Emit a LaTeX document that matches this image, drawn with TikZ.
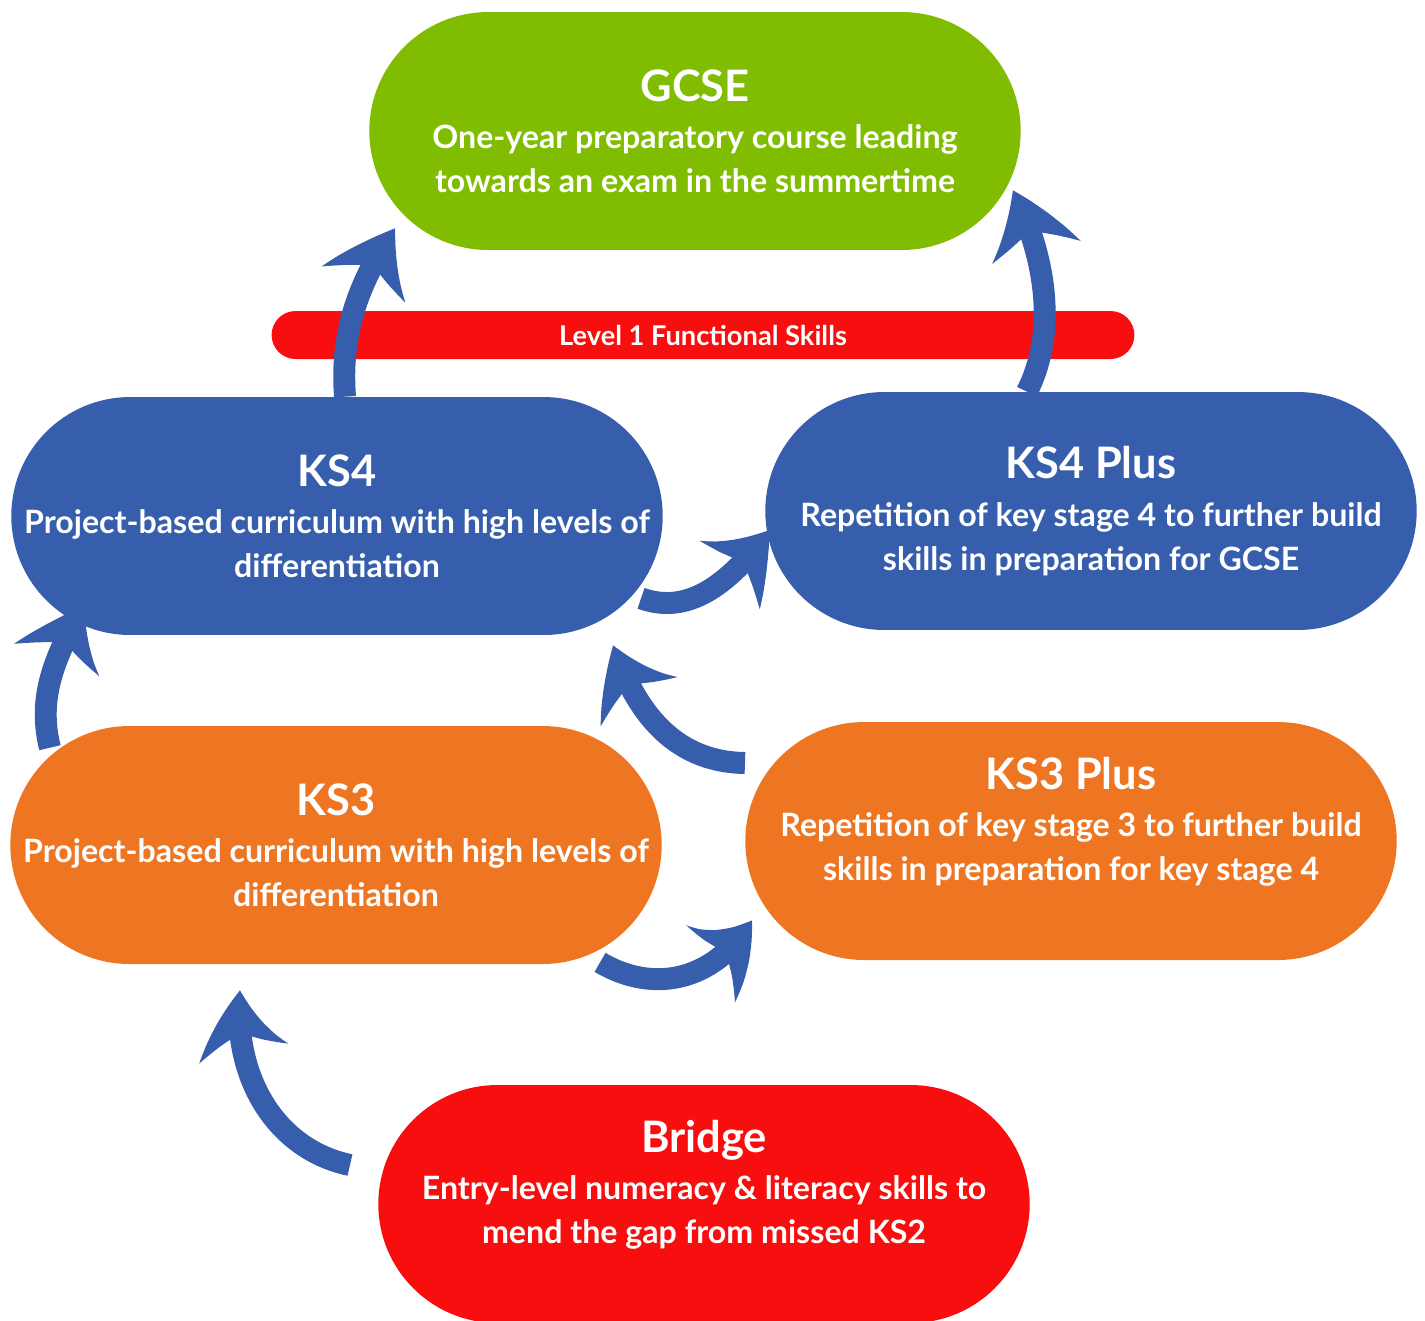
\documentclass[tikz,border=0pt]{standalone}
\usepackage{fontspec}
\setmainfont{Lato}
\usetikzlibrary{arrows.meta, calc, bending}

\definecolor{stagegreen}{HTML}{80BD00}
\definecolor{stageblue}{HTML}{365EAD}
\definecolor{stageorange}{HTML}{EE7623}
\definecolor{stagered}{HTML}{F80E0E}

\newcommand{\stagetitle}[1]{{\fontsize{24.7}{28}\selectfont #1}\\[2pt]}

\begin{document}
\begin{tikzpicture}[
    x=0.02cm, y=-0.02cm,
    font=\bfseries\fontsize{18.3}{25}\selectfont,
    stage/.style={rectangle, rounded corners=2.38cm, minimum width=13.03cm,
                  minimum height=4.76cm, align=center, text=white, inner sep=0pt},
    skillbar/.style={rectangle, rounded corners=0.48cm, minimum width=17.26cm,
                     minimum height=0.96cm, fill=stagered, text=white, inner sep=0pt,
                     font=\bfseries\fontsize{15.5}{18}\selectfont},
    arrow/.style={draw=stageblue, line width=12.5pt,
                  -{Stealth[length=38pt, width=52pt, inset=13pt, line width=0pt, bend]}},
    % Colores por nivel
    gcse/.style={fill=stagegreen},
    ks4/.style={fill=stageblue},
    ks3/.style={fill=stageorange},
    bridge/.style={fill=stagered}
]
\useasboundingbox (0,0) rectangle (1425,1320);

% --- Barra de habilidades ---
\node[skillbar] (functional) at (703,335) {Level 1 Functional Skills};

% --- Etapas ---
\node[stage, gcse] (gcse) at (695,131) {\stagetitle{GCSE}One-year preparatory course leading\\towards an exam in the summertime};

\node[stage, ks4] (ks4) at (337,516) {\stagetitle{KS4}Project-based curriculum with high levels of\\differentiation};
\node[stage, ks4] (ks4plus) at (1091,511) {\stagetitle{KS4 Plus}Repetition of key stage 4 to further build\\skills in preparation for GCSE};

\node[stage, ks3] (ks3) at (336,845) {\stagetitle{KS3}Project-based curriculum with high levels of\\differentiation};
\node[stage, ks3] (ks3plus) at (1071,841) {\stagetitle{KS3 Plus}Repetition of key stage 3 to further build\\skills in preparation for key stage 4\\\mbox{}};

\node[stage, bridge] (bridge) at (704,1204) {\stagetitle{Bridge}Entry-level numeracy \& literacy skills to\\mend the gap from missed KS2\\\mbox{}};

% --- Flechas ---
\draw[arrow] ($(ks4.north)+(8,0)$) .. controls (340,330) and (360,280) .. ($(gcse.south)+(-300,-22)$);
\draw[arrow] ($(ks4plus.north)+(-64,0)$) .. controls (1058,330) and (1045,255) .. ($(gcse.south)+(318,-60)$);
\draw[arrow] ($(ks4.south east)+(-22,-37)$) .. controls (685,614) and (725,590) .. ($(ks4plus.west)+(5,19)$);
\draw[arrow] ($(ks3plus.west)+(0,-78)$) .. controls (680,762) and (638,720) .. ($(ks4.south east)+(-50,10)$);
\draw[arrow] ($(ks3.north west)+(40,22)$) .. controls (38,700) and (52,660) .. ($(ks4.south west)+(73,-30)$);
\draw[arrow] ($(ks3.south east)+(-62,-2)$) .. controls (650,992) and (712,985) .. ($(ks3plus.south west)+(7,-40)$);
\draw[arrow] ($(bridge.west)+(-28,-39)$) .. controls (278,1150) and (232,1080) .. ($(ks3.south)+(-96,26)$);

\end{tikzpicture}
\end{document}
